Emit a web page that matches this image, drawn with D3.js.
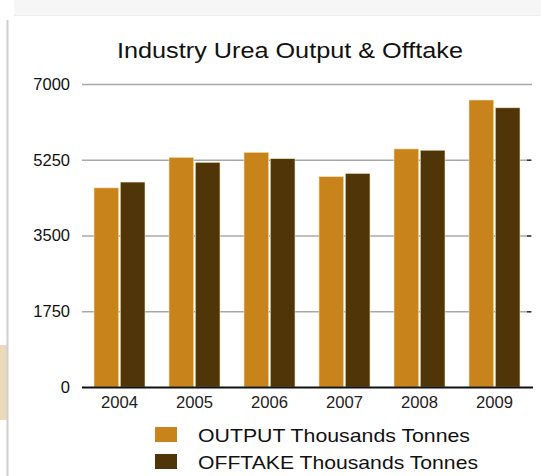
<!DOCTYPE html>
<html>
<head>
<meta charset="utf-8">
<script src="https://cdn.jsdelivr.net/npm/d3@7"></script>
<style>
  html, body { margin: 0; padding: 0; background: #fff; }
  svg { display: block; font-family: "Liberation Sans", Arial, Helvetica, sans-serif; }
</style>
</head>
<body>
<svg id="chart" width="541" height="476"></svg>
<script>
// Urea output and offtake by year, thousands of tonnes
const years = ["2004", "2005", "2006", "2007", "2008", "2009"];
const seriesNames = ["OUTPUT Thousands Tonnes", "OFFTAKE Thousands Tonnes"];
const output = [4600, 5305, 5420, 4860, 5500, 6630];
const offtake = [4735, 5190, 5275, 4935, 5470, 6450];
const yTicks = [0, 1750, 3500, 5250, 7000];
const colors = ["#C8841A", "#4F3508"];

const svg = d3.select("#chart");

// page furniture: faint header band, left rule and side tab
svg.append("rect").attr("x", 14).attr("y", 0).attr("width", 527).attr("height", 15).attr("fill", "#f6f6f6");
svg.append("line").attr("x1", 14).attr("x2", 541).attr("y1", 15.5).attr("y2", 15.5).attr("stroke", "#ececec");
svg.append("rect").attr("x", 0).attr("y", 345).attr("width", 8).attr("height", 75).attr("fill", "#EBDABA");
svg.append("line").attr("x1", 7.5).attr("x2", 7.5).attr("y1", 20).attr("y2", 476).attr("stroke", "#cfcfcf").attr("stroke-width", 2);

const plot = { left: 82, right: 532, top: 84, bottom: 387 };

const x0 = d3.scaleBand().domain(years).range([plot.left, plot.right]).padding(0);
const x1 = d3.scaleBand().domain(seriesNames).range([12, 63]).paddingInner(0.06);
const y = d3.scaleLinear().domain([0, 7000]).range([plot.bottom, plot.top]);

// horizontal gridlines
svg.append("g").selectAll("line")
  .data(yTicks.filter(d => d > 0))
  .join("line")
  .attr("x1", plot.left).attr("x2", plot.right)
  .attr("y1", d => y(d) + 0.5).attr("y2", d => y(d) + 0.5)
  .attr("stroke", "#a8a8a8").attr("stroke-width", 1.5);

// right-edge tick marks
svg.append("g").selectAll("line")
  .data(yTicks.filter(d => d > 0 && d < 7000))
  .join("line")
  .attr("x1", plot.right - 5).attr("x2", plot.right - 1)
  .attr("y1", d => y(d) + 0.5).attr("y2", d => y(d) + 0.5)
  .attr("stroke", "#333").attr("stroke-width", 1.5);

// y axis labels
const yAxis = d3.axisLeft(y).tickValues(yTicks).tickSize(0).tickPadding(12).tickFormat(d3.format("d"));
const ya = svg.append("g").attr("transform", `translate(${plot.left},0)`).call(yAxis);
ya.select(".domain").remove();
ya.selectAll("text").attr("font-size", 16.5).attr("fill", "#111")
  .attr("font-family", "'Liberation Sans', Arial, sans-serif");

// bars
const rows = years.map((yr, i) => ({ year: yr, values: [output[i], offtake[i]] }));
const groups = svg.append("g").selectAll("g")
  .data(rows)
  .join("g")
  .attr("transform", d => `translate(${x0(d.year)},0)`);
groups.selectAll("rect")
  .data(d => d.values.map((v, k) => ({ name: seriesNames[k], value: v, k })))
  .join("rect")
  .attr("x", d => x1(d.name))
  .attr("width", x1.bandwidth())
  .attr("y", d => y(d.value))
  .attr("height", d => y(0) - y(d.value))
  .attr("fill", d => colors[d.k])
  .attr("stroke", "#f3e3b8").attr("stroke-width", 0.6);

// baseline
svg.append("line")
  .attr("x1", plot.left).attr("x2", plot.right + 1)
  .attr("y1", y(0) + 0.5).attr("y2", y(0) + 0.5)
  .attr("stroke", "#111").attr("stroke-width", 2);

// x axis labels
const xAxis = d3.axisBottom(x0).tickSize(0).tickPadding(10);
const xa = svg.append("g").attr("transform", `translate(0,${plot.bottom})`).call(xAxis);
xa.select(".domain").remove();
xa.selectAll("text").attr("font-size", 16).attr("fill", "#222")
  .attr("textLength", 37).attr("lengthAdjust", "spacingAndGlyphs")
  .attr("font-family", "'Liberation Sans', Arial, sans-serif");

// title
svg.append("text")
  .attr("x", 290).attr("y", 58)
  .attr("text-anchor", "middle")
  .attr("font-size", 21.5)
  .attr("textLength", 346).attr("lengthAdjust", "spacingAndGlyphs")
  .attr("fill", "#111")
  .text("Industry Urea Output & Offtake");

// legend
const legendWidths = [272, 280];
const legend = svg.append("g").selectAll("g")
  .data(seriesNames)
  .join("g")
  .attr("transform", (d, i) => `translate(155,${427 + i * 27})`);
legend.append("rect")
  .attr("width", 22).attr("height", 15)
  .attr("fill", (d, i) => colors[i]);
legend.append("text")
  .attr("x", 43).attr("y", 14.5)
  .attr("font-size", 18.5)
  .attr("textLength", (d, i) => legendWidths[i]).attr("lengthAdjust", "spacingAndGlyphs")
  .attr("fill", "#111")
  .text(d => d);
</script>
</body>
</html>
